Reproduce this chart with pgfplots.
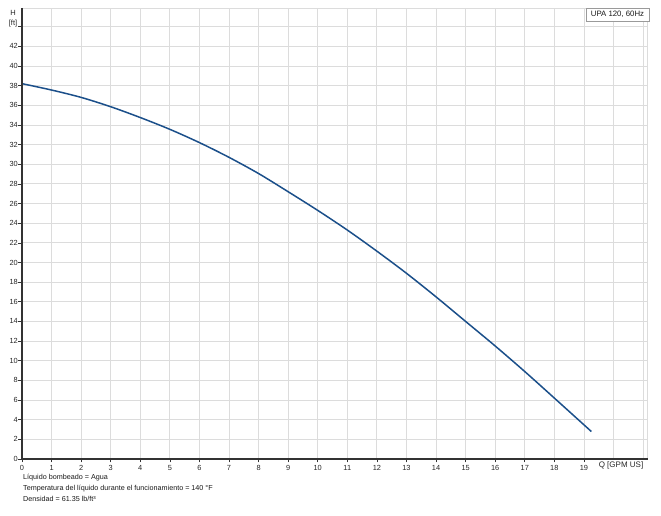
\documentclass[border=0pt]{standalone}
\usepackage{pgfplots}
\pgfplotsset{compat=1.18}
\usepackage{fontspec}
\setmainfont{Liberation Sans}
\definecolor{curve}{RGB}{27,79,138}
\definecolor{gridc}{RGB}{220,220,220}
\begin{document}
\begin{tikzpicture}[x=1pt,y=1pt]
\useasboundingbox (0,0) rectangle (661,516);
\begin{axis}[
  at={(22pt,57pt)}, anchor=south west,
  width=625.5pt, height=451pt, scale only axis,
  xmin=0, xmax=21.15, ymin=0, ymax=45.9,
  xtick={0,1,...,19}, ytick={0,2,...,42},
  extra x ticks={20,21}, extra x tick labels={},
  extra y ticks={44}, extra y tick labels={},
  extra x tick style={grid=major, major tick length=0pt},
  extra y tick style={grid=major},
  xtick pos=bottom, ytick pos=left,
  grid=major,
  major grid style={gridc, line width=0.8pt},
  axis line style={gridc, line width=0.8pt},
  tick align=outside, major tick length=3.5pt,
  tick style={black!80, line width=0.6pt},
  every tick label/.append style={font=\fontsize{7.4}{8}\selectfont, text=black!85},
  xticklabel style={inner sep=0pt, yshift=-2.5pt},
  yticklabel style={inner sep=0.5pt},
  /pgf/number format/assume math mode=true,
  clip=false,
]
\addplot[curve, line width=1.5pt, smooth] coordinates {
(0,38.2) (1,37.55) (2,36.8) (3,35.85) (4,34.75) (5,33.55) (6,32.2) (7,30.7)
(8,29.05) (9,27.2) (10,25.3) (11,23.3) (12,21.15) (13,18.9) (14,16.5)
(15,14.0) (16,11.5) (17,8.9) (18,6.2) (19.25,2.8)
};
\draw[black!80, line width=1.3pt] (rel axis cs:0,1) -- (rel axis cs:0,0) -- (rel axis cs:1,0);
\end{axis}
\node[font=\fontsize{7.5}{10}\selectfont, align=center, inner sep=0pt, text=black!85] at (13,497) {H\\{[ft]}};
\node[font=\fontsize{8}{8}\selectfont, inner sep=0pt, text=black!85] at (621,50.5) {Q [GPM US]};
\draw[gridc!70!black, line width=0.6pt, fill=white] (586,495) rectangle (649,508);
\node[font=\fontsize{7.8}{8}\selectfont, inner sep=0pt, text=black!90] at (617.5,501.5) {UPA 120, 60Hz};
\begin{scope}[every node/.style={font=\fontsize{7.2}{8}\selectfont, anchor=west, inner sep=0pt, text=black!90}]
\node at (23,38) {Líquido bombeado = Agua};
\node at (23,27) {Temperatura del líquido durante el funcionamiento = 140 °F};
\node at (23,17) {Densidad = 61.35 lb/ft³};
\end{scope}
\end{tikzpicture}
\end{document}
